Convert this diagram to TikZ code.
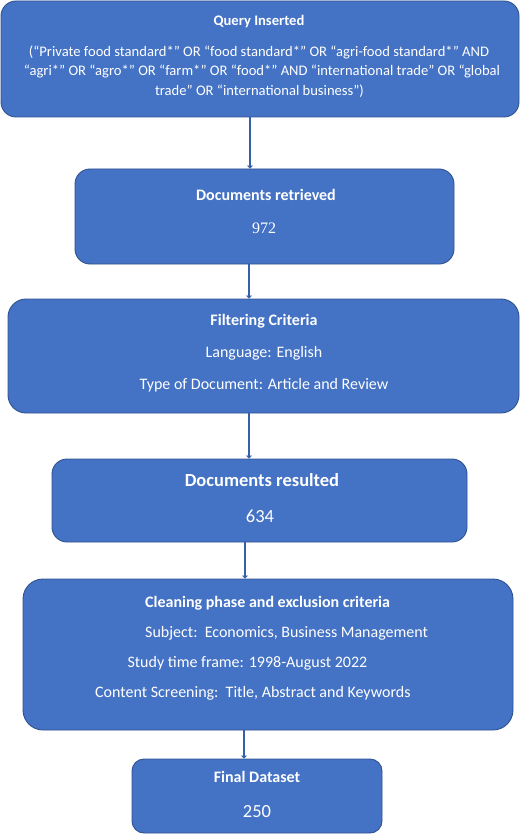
\documentclass[tikz,border=0pt]{standalone}
\usepackage{fontspec}
\setmainfont{Carlito}
\newfontfamily\numfont{Liberation Serif}
\usetikzlibrary{arrows.meta}
\definecolor{boxfill}{HTML}{4472C4}
\definecolor{boxline}{HTML}{2F528F}
\definecolor{arrowcol}{HTML}{3760AC}
\newcommand{\fsz}[1]{\fontsize{#1}{#1}\selectfont}
\tikzset{
  box/.style={draw=boxline, line width=0.9pt, fill=boxfill, rounded corners=15pt, inner sep=0pt},
  txt/.style={text=white, font=\fsz{16}, inner sep=0pt, anchor=base},
  ttl/.style={txt, font=\fsz{16}\bfseries},
  arr/.style={draw=arrowcol, line width=2.6pt, -{Triangle[length=3pt,width=6pt]}}
}
\begin{document}
\begin{tikzpicture}[x=1pt,y=-1pt]
\useasboundingbox (0,0) rectangle (520,834);
% boxes
\node[box, minimum width=518pt, minimum height=116pt] (b1) at (260,59) {};
\node[box, minimum width=379pt, minimum height=95pt] (b2) at (264.5,216.5) {};
\node[box, minimum width=511pt, minimum height=114pt, rounded corners=18pt] (b3) at (263.5,356) {};
\node[box, minimum width=415pt, minimum height=83pt] (b4) at (259.5,500.5) {};
\node[box, minimum width=490pt, minimum height=151pt, rounded corners=20pt] (b5) at (268,654.5) {};
\node[box, minimum width=250pt, minimum height=74pt, rounded corners=12pt] (b6) at (257,796) {};
% texts
\node[ttl, font=\fsz{14.6}\bfseries] (t1) at (259,25.7) {Query Inserted};
\node[txt, font=\fsz{14.6}] (t1a) at (259,56.7) {(“Private food standard*” OR “food standard*” OR “agri-food standard*” AND};
\node[txt, font=\fsz{14.6}] (t1b) at (262,76) {“agri*” OR “agro*” OR “farm*” OR “food*” AND “international trade” OR “global};
\node[txt, font=\fsz{14.6}] (t1c) at (259.5,95.5) {trade” OR “international business”)};
\node[ttl] (t2) at (266,200.7) {Documents retrieved};
\node[txt, font=\numfont\fsz{16}] (t2a) at (264,233.3) {972};
\node[ttl] (t3) at (264,325.7) {Filtering Criteria};
\node[txt] (t3a) at (264,357.3) {Language: English};
\node[txt] (t3b) at (264,389) {Type of Document: Article and Review};
\node[ttl, font=\fsz{18.5}\bfseries] (t4) at (262,486.7) {Documents resulted};
\node[txt, font=\fsz{18.5}] (t4a) at (260,522.3) {634};
\node[ttl, anchor=base west] (t5) at (145,607.7) {Cleaning phase and exclusion criteria};
\node[txt, anchor=base west] (t5a) at (145,637.7) {Subject:\ \ Economics, Business Management};
\node[txt, anchor=base west] (t5b) at (127.3,667.7) {Study time frame: 1998-August 2022};
\node[txt, anchor=base west] (t5c) at (95,697.7) {Content Screening:\ \ Title, Abstract and Keywords};
\node[ttl] (t6) at (257,782.7) {Final Dataset};
\node[txt, font=\fsz{18.5}] (t6a) at (257,817.3) {250};
% arrows
\draw[arr] (b1.south -| 250,0) -- (b2.north -| 250,0);
\draw[arr] (b2.south -| 249,0) -- (b3.north -| 249,0);
\draw[arr] (b3.south -| 249,0) -- (b4.north -| 249,0);
\draw[arr] (b4.south -| 245,0) -- (b5.north -| 245,0);
\draw[arr] (b5.south -| 244,0) -- (b6.north -| 244,0);
\end{tikzpicture}
\end{document}
